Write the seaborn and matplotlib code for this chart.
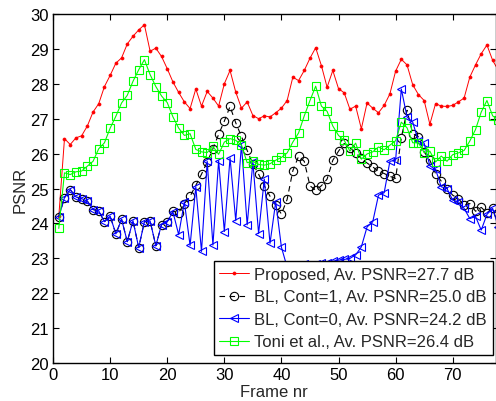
import matplotlib
matplotlib.use('Agg')
import matplotlib.pyplot as plt
import seaborn as sns

# PSNR per frame
frames = list(range(1, 79))

proposed = [24.20, 26.43, 26.26, 26.45, 26.51, 26.79, 27.19, 27.43, 27.92, 28.24,
            28.59, 28.74, 29.14, 29.36, 29.54, 29.69, 28.93, 29.02, 28.78, 28.43,
            28.05, 27.75, 27.48, 27.29, 27.85, 27.36, 27.78, 27.59, 27.36, 28.00,
            28.38, 27.76, 27.30, 27.48, 27.09, 27.00, 27.08, 27.05, 27.17, 27.30,
            27.52, 28.19, 28.09, 28.38, 28.73, 29.03, 28.52, 27.90, 28.38, 27.86,
            27.74, 27.27, 27.36, 26.71, 27.45, 27.30, 27.17, 27.38, 27.71, 28.36,
            28.70, 28.54, 27.97, 27.69, 27.52, 26.84, 27.43, 27.36, 27.35, 27.38,
            27.48, 27.59, 28.19, 28.54, 28.86, 29.11, 28.67, 28.38]

bl_cont1 = [24.19, 24.74, 24.97, 24.76, 24.71, 24.64, 24.40, 24.36, 24.05, 24.21,
            23.70, 24.12, 23.48, 24.08, 23.31, 24.05, 24.07, 23.36, 23.97, 24.05,
            24.35, 24.31, 24.57, 24.78, 25.09, 25.41, 25.76, 26.14, 26.55, 26.93,
            27.35, 26.88, 26.49, 26.09, 25.71, 25.41, 25.08, 24.78, 24.52, 24.27,
            24.69, 25.51, 25.92, 25.78, 25.08, 24.95, 25.08, 25.27, 25.81, 26.07,
            26.29, 26.16, 26.03, 25.86, 25.73, 25.62, 25.49, 25.43, 25.35, 25.29,
            26.45, 27.24, 26.57, 26.48, 26.05, 25.81, 25.43, 25.21, 25.00, 24.81,
            24.71, 24.52, 24.57, 24.35, 24.46, 24.31, 24.43, 24.30]

bl_cont0 = [24.19, 24.74, 24.97, 24.76, 24.71, 24.64, 24.40, 24.36, 24.05, 24.21,
            23.70, 24.12, 23.48, 24.08, 23.31, 24.05, 24.07, 23.36, 23.97, 24.05,
            24.33, 23.68, 24.62, 23.37, 25.05, 23.20, 25.78, 23.38, 25.80, 23.77,
            25.88, 24.08, 26.26, 23.96, 25.76, 23.71, 25.27, 23.43, 24.62, 23.32,
            22.75, 22.80, 22.80, 22.85, 22.82, 22.85, 22.87, 22.88, 22.92, 22.95,
            22.97, 23.00, 23.10, 23.33, 23.90, 24.05, 24.81, 24.88, 25.78, 25.81,
            27.85, 27.05, 26.90, 26.35, 26.30, 25.65, 25.55, 25.05, 25.00, 24.67,
            24.62, 24.43, 24.14, 24.20, 23.81, 24.26, 24.43, 23.90]

toni = [23.86, 25.45, 25.40, 25.48, 25.50, 25.64, 25.78, 26.14, 26.31, 26.73,
        27.07, 27.45, 27.67, 28.07, 28.40, 28.69, 28.26, 27.92, 27.65, 27.46,
        27.05, 26.73, 26.52, 26.57, 26.12, 26.05, 26.03, 26.21, 25.98, 26.33,
        26.43, 26.38, 26.24, 25.74, 25.78, 25.69, 25.67, 25.71, 25.81, 25.89,
        26.02, 26.33, 26.59, 27.08, 27.52, 27.93, 27.36, 27.21, 26.79, 26.52,
        26.38, 26.07, 26.30, 25.84, 25.99, 26.05, 26.19, 26.11, 26.24, 26.37,
        26.90, 26.74, 26.31, 26.31, 26.03, 26.07, 25.76, 25.93, 25.78, 25.97,
        26.02, 26.09, 26.36, 26.69, 27.19, 27.52, 27.08, 26.97]

labels = ['Proposed, Av. PSNR=27.7 dB',
          'BL, Cont=1, Av. PSNR=25.0 dB',
          'BL, Cont=0, Av. PSNR=24.2 dB',
          'Toni et al., Av. PSNR=26.4 dB']

sns.set_style('ticks')
plt.rcParams['font.family'] = ['Liberation Sans', 'DejaVu Sans']
plt.rcParams.update({
    'xtick.direction': 'in', 'ytick.direction': 'in',
    'xtick.top': True, 'ytick.right': True,
    'xtick.major.size': 4, 'ytick.major.size': 4,
    'axes.linewidth': 1.0, 'axes.edgecolor': 'black',
    'xtick.color': 'black', 'ytick.color': 'black',
    'font.size': 12,
})

fig = plt.figure(figsize=(4.96, 4.02), dpi=100)
ax = fig.add_axes([0.107, 0.094, 0.892, 0.869])

# Proposed: red line with small dots
sns.lineplot(x=frames, y=proposed, color='red', marker='o', markersize=2.2,
             markeredgecolor='red', markeredgewidth=0.5, linewidth=0.7,
             label=labels[0], ax=ax)
# BL Cont=1: black dashed with open circles
sns.lineplot(x=frames, y=bl_cont1, color='black', marker='o', markersize=6,
             markerfacecolor='none', markeredgecolor='black', markeredgewidth=0.8,
             linestyle=(0, (5, 4)), linewidth=0.8, label=labels[1], ax=ax)
# BL Cont=0: blue with open left triangles
sns.lineplot(x=frames, y=bl_cont0, color='blue', marker='<', markersize=6,
             markerfacecolor='none', markeredgecolor='blue', markeredgewidth=0.8,
             linewidth=0.8, label=labels[2], ax=ax)
# Toni et al.: green with open squares
sns.lineplot(x=frames, y=toni, color='#00ff00', marker='s', markersize=5.5,
             markerfacecolor='none', markeredgecolor='#00ff00', markeredgewidth=0.8,
             linewidth=0.8, label=labels[3], ax=ax)

ax.set_xlim(0, 77.5)
ax.set_ylim(20, 30)
ax.set_xticks(range(0, 80, 10))
ax.set_yticks(range(20, 31))
ax.set_xlabel('Frame nr', fontsize=12, labelpad=1.5)
ax.set_ylabel('PSNR', fontsize=12, labelpad=2)
ax.tick_params(axis='x', labelsize=12, pad=2.5)
ax.tick_params(axis='y', labelsize=12, pad=3)

leg = ax.legend(loc='lower right', bbox_to_anchor=(0.994, 0.023),
                borderaxespad=0, fancybox=False, framealpha=1,
                edgecolor='black', handlelength=1.8, handletextpad=0.3,
                borderpad=0.35, labelspacing=0.45, fontsize=12)
leg.get_frame().set_linewidth(1.0)

fig.savefig('out.png', dpi=100)
